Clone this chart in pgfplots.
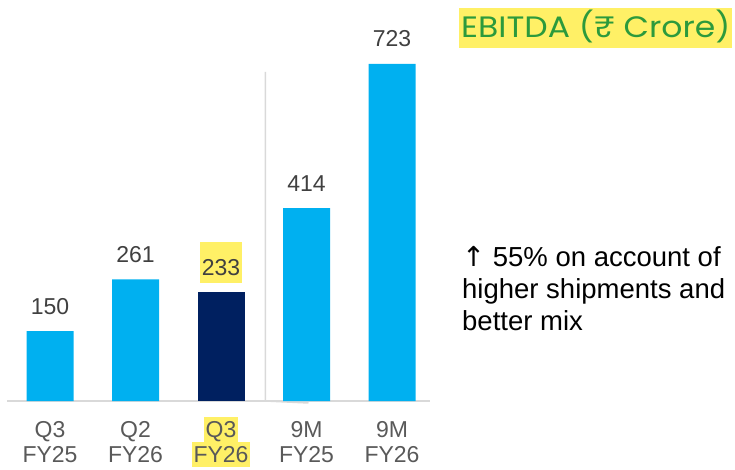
\documentclass[border=0pt]{standalone}
\usepackage{pgfplots}
\pgfplotsset{compat=1.18}
\usepackage{fontspec}
\setmainfont{Liberation Sans}
\newfontfamily\titlefont[FakeStretch=1.12]{Poppins}
\newfontfamily\symfont{DejaVu Sans}
\definecolor{barblue}{HTML}{00B0F0}
\definecolor{navy}{HTML}{002060}
\definecolor{hl}{HTML}{FFF066}
\definecolor{titlegreen}{HTML}{2C9A3C}
\definecolor{tickgray}{HTML}{595959}
\definecolor{valgray}{HTML}{404040}
\definecolor{axisgray}{HTML}{D9D9D9}
\newcommand{\tl}[2]{\rule[-5pt]{0pt}{25pt}#1\\\rule[-5pt]{0pt}{25pt}#2}
\newcommand{\hlb}[1]{{\setlength{\fboxsep}{0pt}\colorbox{hl}{\hspace{1.5pt}\rule[-5pt]{0pt}{25pt}#1\hspace{1.5pt}}}}
\begin{document}
\begin{tikzpicture}
\path[use as bounding box] (0,0) rectangle (735pt,469pt);
\begin{axis}[
  at={(7pt,68pt)}, anchor=south west,
  scale only axis, width=423pt, height=337pt,
  xmin=-0.503, xmax=4.444, ymin=0, ymax=723,
  axis x line*=bottom, axis y line=none,
  x axis line style={draw=axisgray, line width=2pt, -},
  xtick={0,1,2,3,4},
  xticklabels={{\tl{Q3}{FY25}},{\tl{Q2}{FY26}},{\hlb{Q3}\\\hlb{FY26}},{\tl{9M}{FY25}},{\tl{9M}{FY26}}},
  xtick style={draw=none},
  xticklabel style={font=\fontsize{23}{25}\selectfont, text=tickgray, align=center, inner sep=0pt, anchor=north, yshift=-12pt},
  ytick=\empty,
  clip=false,
  /pgf/number format/assume math mode=true,
  ybar, bar width=47pt, bar shift=0pt,
  nodes near coords,
  every node near coord/.append style={font=\fontsize{23}{25}\selectfont, text=valgray, anchor=base, inner sep=0pt, yshift=17pt},
]
\draw[draw=axisgray, line width=1.5pt] (axis cs:2.52,706) -- (axis cs:2.52,0) -- ++(0,-2pt);
\addplot[fill=barblue, draw=none] coordinates {(0,150) (1,261) (3,414) (4,723)};
\addplot[fill=navy, draw=none, every node near coord/.append style={fill=hl, text height=33pt, text depth=8pt, inner xsep=2pt, inner ysep=0pt}] coordinates {(2,233)};
\end{axis}
\node[anchor=base west, inner sep=0pt, fill=hl, text height=29.7pt, text depth=10pt, inner xsep=2pt, font=\titlefont\fontsize{29.5}{32}\selectfont, text=titlegreen] at (459pt,431.3pt) {EBITDA (₹ Crore)};
\node[anchor=base west, inner sep=0pt, align=left, font=\fontsize{27.5}{32}\selectfont, text=black] at (462pt,139pt) {{\symfont ↑} 55\% on account of\\higher shipments and\\better mix};
\end{tikzpicture}
\end{document}
